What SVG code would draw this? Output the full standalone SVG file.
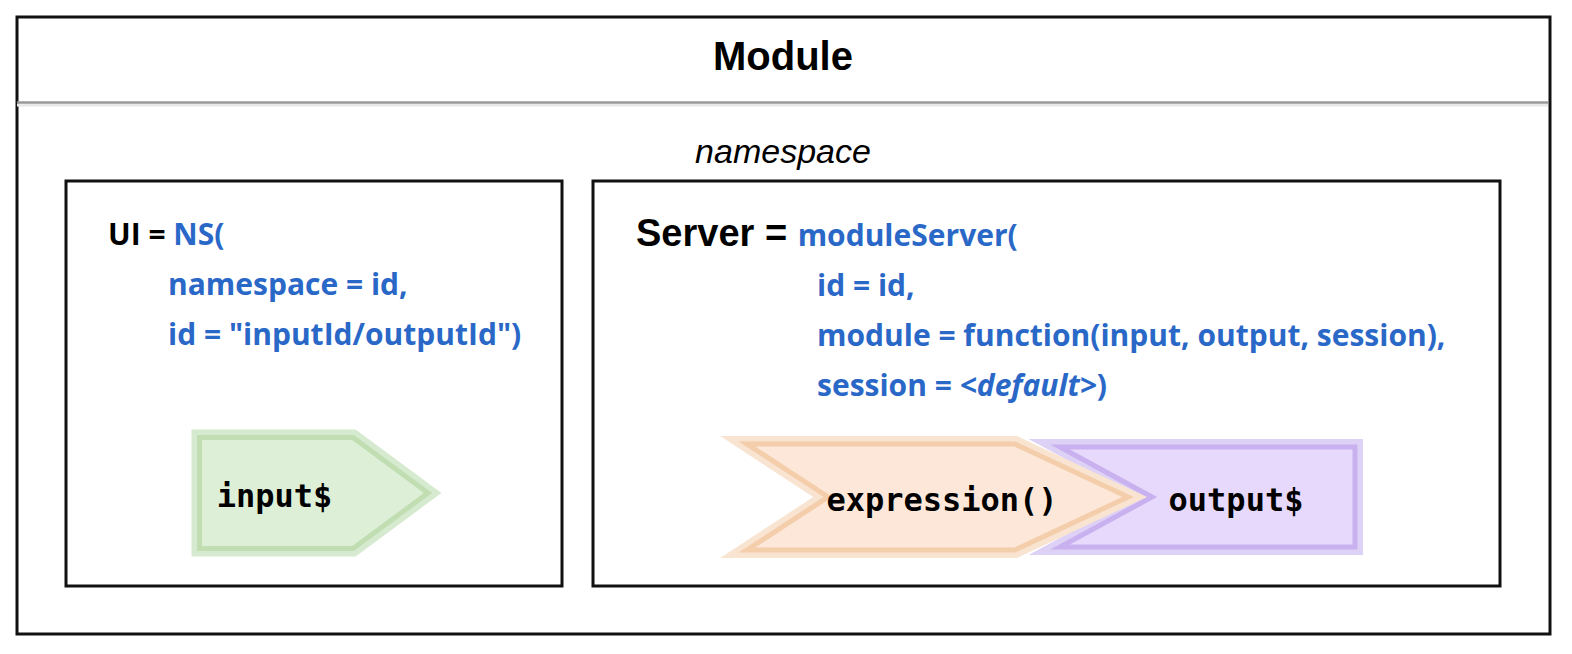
<svg xmlns="http://www.w3.org/2000/svg" width="1572" height="654" viewBox="0 0 1572 654">
<style>
  .frame{fill:#fff;stroke:#111;stroke-width:3}
  .title{font-family:"Liberation Sans",Arial,sans-serif;font-weight:bold;font-size:40px;fill:#000}
  .ns{font-family:"Liberation Sans",Arial,sans-serif;font-style:italic;font-size:34px;fill:#000}
  .code{font-family:"Open Sans","Noto Sans",sans-serif;font-weight:bold;font-size:30px;fill:#2a68c8}
  .blk{fill:#000}
  .srv{font-family:"Liberation Sans",Arial,sans-serif;font-weight:bold;font-size:38px;fill:#000}
  .mono{font-family:"DejaVu Sans Mono","Liberation Mono",monospace;font-weight:bold;font-size:32px;fill:#000;text-anchor:middle}
  .halo{stroke-width:16;stroke-linejoin:miter;stroke-miterlimit:10}
  .body{stroke-width:5;stroke-linejoin:miter;stroke-miterlimit:10}
</style>
<rect width="1572" height="654" fill="#fff"/>
<g id="module">
  <rect class="frame" x="17" y="17" width="1533" height="617"/>
  <line x1="17" y1="105" x2="1548" y2="105" stroke="#e8e8e8" stroke-width="3"/>
  <line x1="17" y1="102.5" x2="1548" y2="102.5" stroke="#999" stroke-width="2.5"/>
  <text class="title" x="783" y="70" text-anchor="middle">Module</text>
  <text class="ns" x="783" y="163" text-anchor="middle">namespace</text>
</g>
<g id="ui">
  <rect class="frame" x="66" y="181" width="496" height="405"/>
  <text class="code" x="108" y="245"><tspan class="blk">UI = </tspan>NS(</text>
  <text class="code" x="168" y="295">namespace = id,</text>
  <text class="code" x="168" y="345">id = "inputId/outputId")</text>
</g>
<g id="server">
  <rect class="frame" x="593" y="181" width="907" height="405"/>
  <text x="636" y="246"><tspan class="srv">Server = </tspan><tspan class="code">moduleServer(</tspan></text>
  <text class="code" x="817" y="296">id = id,</text>
  <text class="code" x="817" y="346">module = function(input, output, session),</text>
  <text class="code" x="817" y="396">session = <tspan font-style="italic">&lt;default&gt;</tspan>)</text>
</g>
<g id="input">
  <polygon class="halo" points="199.5,437.5 353,437.5 428,493 353,548.5 199.5,548.5" fill="#d6ead0" stroke="#d6ead0"/>
  <polygon class="body" points="199.5,437.5 353,437.5 428,493 353,548.5 199.5,548.5" fill="#ddefd6" stroke="#c1deb2"/>
  <text class="mono" x="274.5" y="507">input$</text>
</g>
<g id="output">
  <polygon class="halo" points="1060,447 1355,447 1355,547 1060,547 1152,497" fill="#ddd1f6" stroke="#ddd1f6"/>
  <polygon class="body" points="1060,447 1355,447 1355,547 1060,547 1152,497" fill="#e6d9fb" stroke="#c9b1ef"/>
  <text class="mono" x="1236" y="511">output$</text>
</g>
<g id="expression">
  <polygon class="halo" points="747,444 1015,444 1128,497 1015,550 747,550 828,497" fill="#f9e3d1" stroke="#f9e3d1"/>
  <polygon class="body" points="747,444 1015,444 1128,497 1015,550 747,550 828,497" fill="#fce7d8" stroke="#f4cdab"/>
  <text class="mono" x="942" y="511">expression()</text>
</g>
<g id="connectors"></g>
</svg>
